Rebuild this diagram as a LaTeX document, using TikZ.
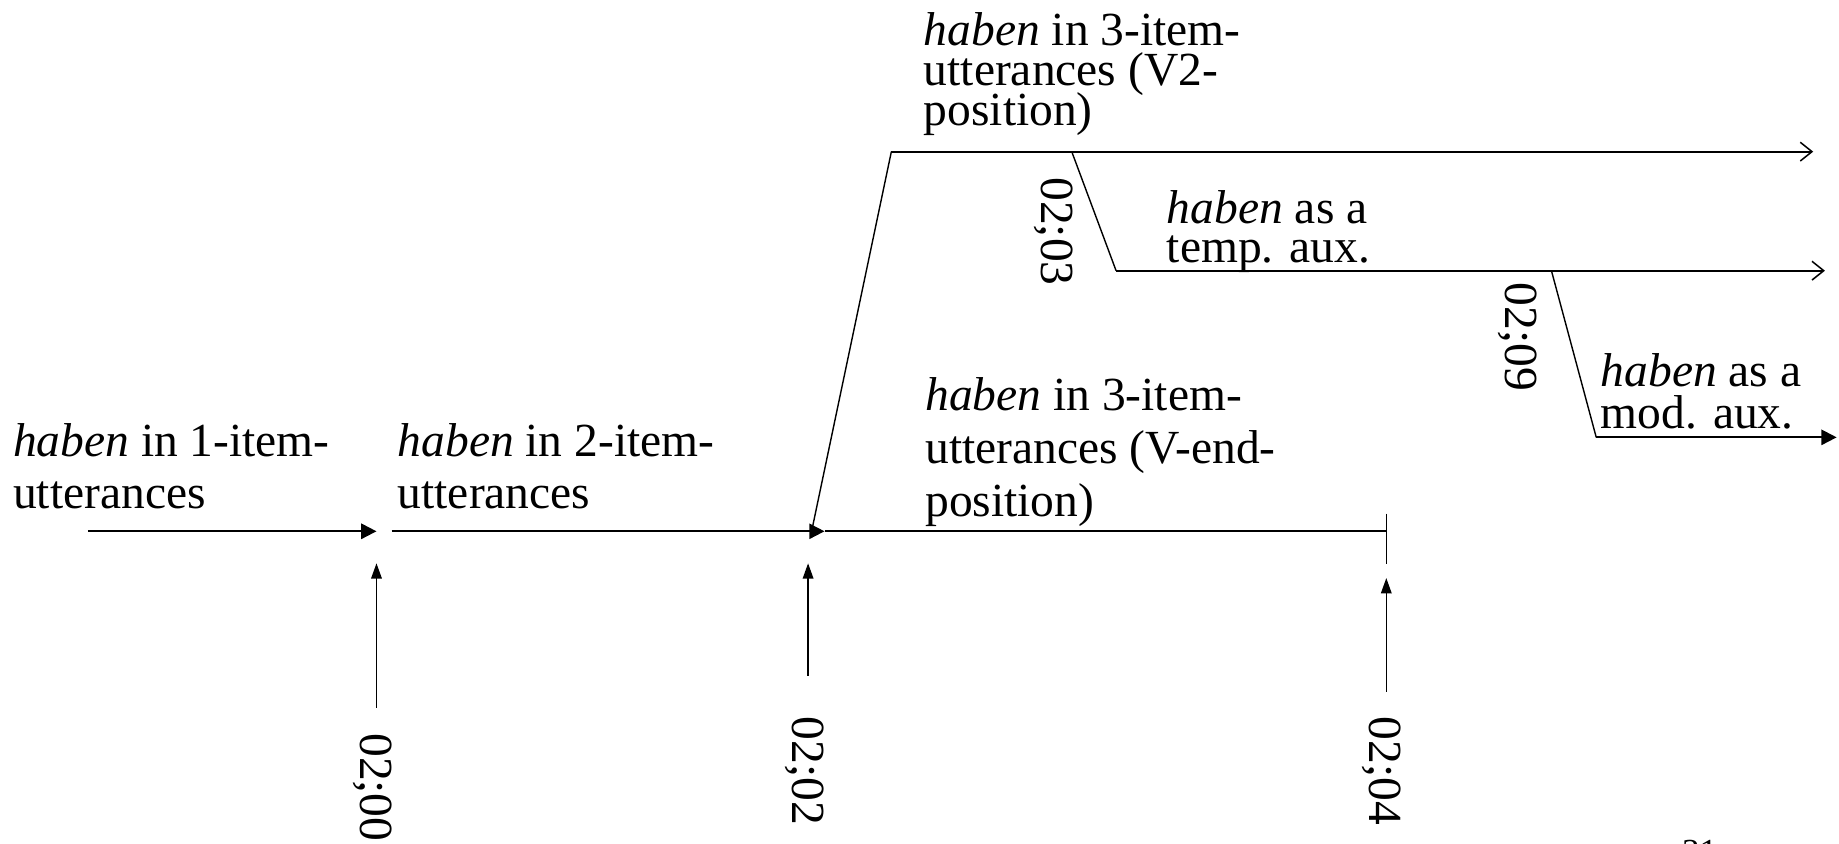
\documentclass[tikz,border=0pt]{standalone}
\usepackage{fontspec}
\setmainfont{Liberation Serif}
\usetikzlibrary{arrows.meta}
\lineskiplimit=-100pt
\tikzset{
  lbl/.style={font=\fontsize{40.5}{#1}\selectfont, inner sep=0pt, anchor=north west, align=left},
  datelbl/.style={font=\fontsize{40.5}{44}\selectfont, inner sep=0pt, anchor=base west, rotate=-90},
  hl/.style={line width=1.7pt},
  sl/.style={line width=1.2pt},
  vl/.style={line width=1.3pt},
  ftip/.style={-{Triangle[length=13pt,width=13pt]}},
  vtip/.style={-{Triangle[length=13pt,width=9pt]}},
  otip/.style={-{Straight Barb[length=10pt,width=16pt,line width=1.3pt]}},
}
\begin{document}
\begin{tikzpicture}[x=1pt,y=-1pt]
\useasboundingbox (0,0) rectangle (1568,719);
% coordinates
\coordinate (a1s) at (75,453);
\coordinate (a1e) at (321,453);
\coordinate (a2s) at (334,453);
\coordinate (a2e) at (703,453);
\coordinate (fork) at (692,453);
\coordinate (vend) at (1182,453);
\coordinate (tickt) at (1182,438);
\coordinate (tickb) at (1182,481);
\coordinate (v2c) at (760,129.3);
\coordinate (b3) at (913.8,129.3);
\coordinate (v2e) at (1546,129.3);
\coordinate (tc) at (951.6,230.8);
\coordinate (b9) at (1322.8,230.8);
\coordinate (te) at (1556,230.8);
\coordinate (mc) at (1361,372.9);
\coordinate (me) at (1566,372.9);
\coordinate (u0s) at (321,603.4);
\coordinate (u0e) at (321,480.3);
\coordinate (u2s) at (689,576);
\coordinate (u2e) at (689,480.3);
\coordinate (u4s) at (1182,589.8);
\coordinate (u4e) at (1182,492.9);
% labels
\node[lbl=44] (la) at (11,361.3) {\textit{haben} in 1-item-\\utterances};
\node[lbl=44] (lb) at (339,361.3) {\textit{haben} in 2-item-\\utterances};
\node[lbl=34] (lv2) at (787.5,10.7) {\textit{haben} in 3-item-\\utterances (V2-\\position)};
\node[lbl=45] (lve) at (788.7,321.9) {\textit{haben} in 3-item-\\utterances (V-end-\\position)};
\node[lbl=33] (lt) at (994.8,162.2) {\textit{haben} as a\\temp. aux.};
\node[lbl=36] (lm) at (1364.8,301.3) {\textit{haben} as a\\mod. aux.};
% date labels
\node[datelbl] (d00) at (307,625) {02;00};
\node[datelbl] (d02) at (676,611) {02;02};
\node[datelbl] (d04) at (1168,611) {02;04};
\node[datelbl] (d03) at (888,151) {02;03};
\node[datelbl] (d09) at (1284,241) {02;09};
\node[inner sep=0pt, anchor=north west, font=\fontsize{30}{30}\selectfont] (pg) at (1434,716.5) {31};
% main line
\draw[hl, ftip] (a1s) -- (a1e);
\draw[hl, ftip] (a2s) -- (a2e);
\draw[hl] (a2e) -- (vend);
\draw[vl] (tickt) -- (tickb);
% branches
\draw[sl] (fork) -- (v2c);
\draw[hl, otip] (v2c) -- (v2e);
\draw[sl] (b3) -- (tc);
\draw[hl, otip] (tc) -- (te);
\draw[sl] (b9) -- (mc);
\draw[hl, ftip] (mc) -- (me);
% up arrows
\draw[vl, vtip] (u0s) -- (u0e);
\draw[vl, vtip] (u2s) -- (u2e);
\draw[vl, vtip] (u4s) -- (u4e);
\end{tikzpicture}
\end{document}
